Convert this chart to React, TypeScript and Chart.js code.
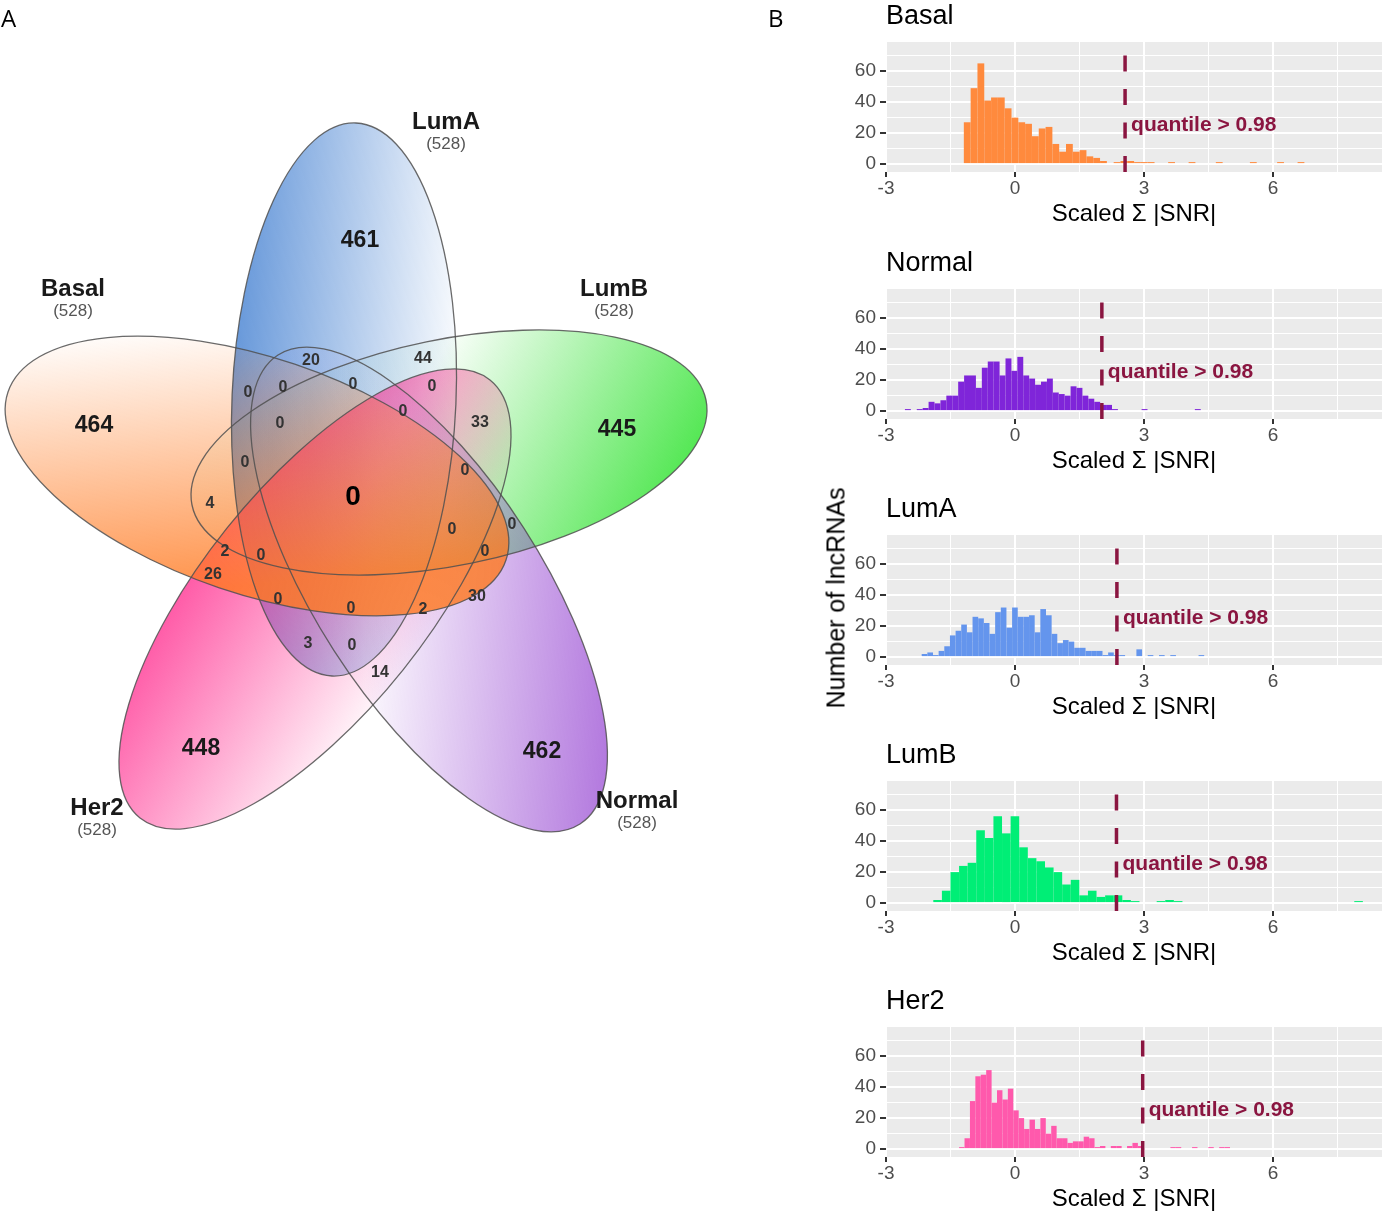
import React, { useEffect, useRef } from 'react';
import { Chart, registerables } from 'chart.js';

Chart.register(...registerables);

const FONT = "'Liberation Sans', Arial, Helvetica, sans-serif";

// ---------------- Panel B : histogram data ----------------
const histNames = ['Basal', 'Normal', 'LumA', 'LumB', 'Her2'];
const basalCounts = [27, 49, 65, 41, 43, 43, 36, 30, 27, 26, 18, 23, 24, 13, 8, 13, 8, 9, 5, 4, 2, 0, 1, 2, 2, 1, 1, 1, 0, 0, 1, 0, 0, 1, 0, 0, 0, 1, 0, 0, 0, 0, 1, 0, 0, 0, 1, 0, 0, 1];
const normalCounts = [1, 0, 1, 2, 6, 5, 7, 10, 10, 19, 23, 23, 15, 28, 32, 32, 23, 34, 26, 35, 23, 21, 17, 19, 21, 12, 11, 10, 16, 15, 10, 8, 6, 4, 4, 1, 0, 0, 0, 0, 1, 0, 0, 0, 0, 0, 0, 0, 0, 1];
const lumACounts = [2, 3, 1, 4, 7, 14, 17, 21, 16, 26, 25, 22, 15, 29, 32, 19, 32, 26, 26, 27, 16, 31, 27, 15, 9, 11, 10, 6, 6, 4, 4, 4, 1, 3, 1, 1, 0, 0, 5, 0, 1, 0, 1, 0, 1, 0, 0, 0, 0, 1];
const lumBCounts = [2, 8, 20, 24, 26, 47, 42, 56, 45, 56, 36, 29, 27, 23, 20, 12, 15, 5, 8, 4, 5, 5, 2, 1, 0, 0, 1, 2, 1, 0, 0, 0, 0, 0, 0, 0, 0, 0, 0, 0, 0, 0, 0, 0, 0, 0, 0, 0, 0, 1];
const her2Counts = [1, 7, 31, 47, 48, 51, 30, 38, 32, 39, 25, 20, 13, 19, 13, 20, 10, 15, 7, 7, 4, 5, 5, 8, 7, 1, 2, 0, 2, 2, 0, 2, 4, 2, 0, 0, 0, 0, 0, 1, 1, 0, 0, 1, 0, 0, 1, 0, 1, 1];
const histCounts = [basalCounts, normalCounts, lumACounts, lumBCounts, her2Counts];
const binStarts = [-1.19, -2.56, -2.17, -1.9, -1.3];
const binWidths = [0.1584, 0.1376, 0.1314, 0.1998, 0.126];
const quantileCuts = [2.56, 2.02, 2.37, 2.36, 2.97];
const histColors = ['#FF8A3D', '#7F25D9', '#6495ED', '#00EE76', '#FF59AC'];
const quantileLabel = 'quantile > 0.98';
const xAxisTitle = 'Scaled Σ |SNR|';
const yAxisTitle = 'Number of lncRNAs';

// layout of panel B
const histTops = [0, 247, 493, 739, 985];
const PANEL_BOTTOM = 172;
const QCOLOR = '#8A1540';

// ---------------- Panel A : Venn data ----------------
const vennSetNames = ['Basal', 'LumA', 'LumB', 'Normal', 'Her2'];
const vennSetSizes = [528, 528, 528, 528, 528];
const vennUniqueCounts = [464, 461, 445, 462, 448];
const vennCenterCount = 0;
const vennSharedCounts = [20, 44, 0, 0, 0, 0, 0, 33, 0, 0, 0, 4, 0, 0, 2, 0, 0, 26, 30, 0, 0, 2, 3, 0, 14];

// Venn layout (diagram units)
const vennSetLabelPos = [[73, 289], [446, 122], [614, 289], [637, 801], [97, 808]];
const vennUniquePos = [[94, 426], [360, 241], [617, 430], [542, 752], [201, 749]];
const vennCenterPos = [353, 497];
const vennSharedPos = [
  [311, 361], [423, 359], [248, 393], [283, 388], [353, 385], [432, 387], [403, 412], [480, 423],
  [280, 424], [245, 463], [465, 471], [210, 504], [452, 530], [512, 525], [225, 552], [261, 556],
  [485, 552], [213, 575], [477, 597], [278, 600], [351, 609], [423, 610], [308, 644], [352, 646], [380, 673],
];
const vennEllipseTip = [[8, 392], [356, 123], [706, 400], [580, 824], [140, 818]];
const vennEllipseEnd = [[506, 560], [332, 676], [192, 505], [278, 355], [490, 380]];
const vennEllipseHalfWidth = [118, 112, 113, 113, 113];
const vennColors = [[255, 120, 30], [70, 130, 210], [40, 225, 40], [150, 70, 210], [255, 40, 140]];
const vennAlpha = [0.8, 0.82, 0.82, 0.82, 0.75];
// gradient start/end in ellipse-local units (x along axis toward tip, y perpendicular)
const vennGradient = [[0, -1, 0.4, 1], [0, -1, 0, 1], [0.9, 0.6, 0.1, -1], [0.8, -1, 0.2, 1], [0.1, 1, 0, -1]];
const vennDrawOrder = [1, 2, 3, 4, 0];

const VENN_W = 770;
const VENN_H = 870;

function isMultiple(v: number, m: number) {
  return Math.abs(v / m - Math.round(v / m)) < 1e-6;
}

function HistogramPanel({ idx }: { idx: number }) {
  const ref = useRef<HTMLCanvasElement>(null);
  const top = histTops[idx];
  const h = Math.min(246, 1214 - top);
  useEffect(() => {
    const counts = histCounts[idx];
    const data = counts.map((c, i) => ({ x: binStarts[idx] + (i + 0.5) * binWidths[idx], y: c === 0 ? null : c }));
    const q = quantileCuts[idx];
    const bgPlugin = {
      id: 'panelBg',
      beforeDraw(chart: any) {
        const { ctx, chartArea: a } = chart;
        ctx.save();
        ctx.fillStyle = '#EBEBEB';
        ctx.fillRect(a.left, a.top, a.right - a.left, a.bottom - a.top);
        ctx.restore();
      },
    };
    const qPlugin = {
      id: 'quantileLine',
      afterDatasetsDraw(chart: any) {
        const { ctx, chartArea: a, scales } = chart;
        const x = scales.x.getPixelForValue(q);
        ctx.save();
        ctx.strokeStyle = QCOLOR;
        ctx.lineWidth = 3.5;
        ctx.setLineDash([16, 17.5]);
        ctx.beginPath();
        ctx.moveTo(x, a.bottom);
        ctx.lineTo(x, a.top);
        ctx.stroke();
        ctx.setLineDash([]);
        ctx.fillStyle = QCOLOR;
        ctx.font = `bold 21px ${FONT}`;
        ctx.textAlign = 'left';
        ctx.textBaseline = 'middle';
        ctx.fillText(quantileLabel, x + 6, scales.y.getPixelForValue(25));
        ctx.restore();
      },
    };
    const chart = new Chart(ref.current!, {
      type: 'bar',
      data: {
        datasets: [
          {
            data: data as any,
            backgroundColor: histColors[idx],
            borderWidth: 0,
            inflateAmount: 0,
            minBarLength: 2,
            barPercentage: 1,
            categoryPercentage: 1,
          } as any,
        ],
      },
      options: {
        responsive: false,
        animation: false,
        events: [],
        layout: { padding: { left: 0, right: 7, top: 0, bottom: 0 } },
        plugins: {
          legend: { display: false },
          tooltip: { enabled: false },
          title: {
            display: true,
            text: histNames[idx],
            align: 'start',
            fullSize: false,
            color: '#000',
            font: { family: FONT, size: 27, weight: 'normal', lineHeight: 1.2 },
            padding: { top: 0, bottom: 42 - 32.4 },
          } as any,
        },
        scales: {
          x: {
            type: 'linear',
            min: -3,
            max: 8.535,
            offset: false,
            border: { display: false },
            grid: {
              offset: false,
              color: '#FFFFFF',
              lineWidth: (c: any) => (isMultiple(c.tick.value, 3) ? 2 : 1),
              tickColor: (c: any) => (isMultiple(c.tick.value, 3) ? '#333333' : 'rgba(0,0,0,0)'),
              tickWidth: 2,
              tickLength: 5,
            },
            ticks: {
              stepSize: 1.5,
              includeBounds: false,
              autoSkip: false,
              maxRotation: 0,
              padding: 0,
              color: '#4D4D4D',
              font: { family: FONT, size: 19 },
              callback: (v: any) => (isMultiple(Number(v), 3) ? String(v) : ''),
            },
            title: {
              display: true,
              text: xAxisTitle,
              color: '#000',
              font: { family: FONT, size: 24, lineHeight: 1.2 },
              padding: { top: 0, bottom: h - 214 - 14.4 },
            },
            afterFit: (s: any) => {
              s.height = h - PANEL_BOTTOM;
            },
          } as any,
          y: {
            type: 'linear',
            min: -5.1,
            max: 78.8,
            border: { display: false },
            grid: {
              color: '#FFFFFF',
              lineWidth: (c: any) => (isMultiple(c.tick.value, 20) ? 2 : 1),
              tickColor: (c: any) => (isMultiple(c.tick.value, 20) ? '#333333' : 'rgba(0,0,0,0)'),
              tickWidth: 2,
              tickLength: 6,
            },
            ticks: {
              stepSize: 10,
              includeBounds: false,
              autoSkip: false,
              padding: 4,
              color: '#4D4D4D',
              font: { family: FONT, size: 19 },
              callback: (v: any) => (isMultiple(Number(v), 20) ? String(v) : ''),
            },
            afterFit: (s: any) => {
              s.width = 46;
            },
          } as any,
        },
      },
      plugins: [bgPlugin, qPlugin],
    });
    return () => chart.destroy();
  }, [idx]);
  return (
    <canvas
      ref={ref}
      width={549}
      height={h}
      style={{ position: 'absolute', left: 840, top, width: 549, height: h }}
    />
  );
}

function VennPanel() {
  const ref = useRef<HTMLCanvasElement>(null);
  useEffect(() => {
    const vennPlugin = {
      id: 'vennDraw',
      afterDraw(chart: any) {
        const { ctx } = chart;
        const xs = chart.scales.x;
        const ys = chart.scales.y;
        const px = (v: number) => xs.getPixelForValue(v);
        const py = (v: number) => ys.getPixelForValue(v);
        const shapes = vennSetNames.map((_, i) => {
          const tx = px(vennEllipseTip[i][0]);
          const ty = py(vennEllipseTip[i][1]);
          const ex = px(vennEllipseEnd[i][0]);
          const ey = py(vennEllipseEnd[i][1]);
          const cx = (tx + ex) / 2;
          const cy = (ty + ey) / 2;
          return {
            cx,
            cy,
            a: Math.hypot(tx - ex, ty - ey) / 2,
            b: Math.abs(px(vennEllipseHalfWidth[i]) - px(0)),
            ang: Math.atan2(ty - cy, tx - cx),
          };
        });
        vennDrawOrder.forEach((i) => {
          const s = shapes[i];
          const [r, g, bl] = vennColors[i];
          const [gx0, gy0, gx1, gy1] = vennGradient[i];
          ctx.save();
          ctx.translate(s.cx, s.cy);
          ctx.rotate(s.ang);
          const grad = ctx.createLinearGradient(gx0 * s.a, gy0 * s.b, gx1 * s.a, gy1 * s.b);
          grad.addColorStop(0, `rgba(${r},${g},${bl},${vennAlpha[i]})`);
          grad.addColorStop(1, `rgba(${r},${g},${bl},0.03)`);
          ctx.beginPath();
          ctx.ellipse(0, 0, s.a, s.b, 0, 0, Math.PI * 2);
          ctx.fillStyle = grad;
          ctx.fill();
          ctx.restore();
        });
        shapes.forEach((s) => {
          ctx.save();
          ctx.translate(s.cx, s.cy);
          ctx.rotate(s.ang);
          ctx.beginPath();
          ctx.ellipse(0, 0, s.a, s.b, 0, 0, Math.PI * 2);
          ctx.strokeStyle = 'rgba(80,80,80,0.85)';
          ctx.lineWidth = 1.3;
          ctx.stroke();
          ctx.restore();
        });
        ctx.save();
        ctx.textAlign = 'center';
        ctx.textBaseline = 'middle';
        vennSetNames.forEach((name, i) => {
          const [lx, ly] = vennSetLabelPos[i];
          ctx.fillStyle = '#1a1a1a';
          ctx.font = `bold 24px ${FONT}`;
          ctx.fillText(name, px(lx), py(ly));
          ctx.fillStyle = '#555555';
          ctx.font = `17px ${FONT}`;
          ctx.fillText(`(${vennSetSizes[i]})`, px(lx), py(ly + 22));
        });
        vennUniqueCounts.forEach((c, i) => {
          ctx.fillStyle = '#1a1a1a';
          ctx.font = `bold 23px ${FONT}`;
          ctx.fillText(String(c), px(vennUniquePos[i][0]), py(vennUniquePos[i][1]));
        });
        vennSharedCounts.forEach((c, i) => {
          ctx.fillStyle = '#333333';
          ctx.font = `bold 16px ${FONT}`;
          ctx.fillText(String(c), px(vennSharedPos[i][0]), py(vennSharedPos[i][1]));
        });
        ctx.fillStyle = '#000';
        ctx.font = `bold 28px ${FONT}`;
        ctx.fillText(String(vennCenterCount), px(vennCenterPos[0]), py(vennCenterPos[1]));
        ctx.restore();
      },
    };
    const chart = new Chart(ref.current!, {
      type: 'scatter',
      data: { datasets: [{ data: [], pointRadius: 0 }] },
      options: {
        responsive: false,
        animation: false,
        events: [],
        layout: { padding: 0 },
        plugins: { legend: { display: false }, tooltip: { enabled: false }, title: { display: false } },
        scales: {
          x: { type: 'linear', min: 0, max: VENN_W, display: false },
          y: { type: 'linear', min: 0, max: VENN_H, reverse: true, display: false },
        },
      },
      plugins: [vennPlugin],
    });
    return () => chart.destroy();
  }, []);
  return (
    <canvas
      ref={ref}
      width={VENN_W}
      height={VENN_H}
      style={{ position: 'absolute', left: 0, top: 0, width: VENN_W, height: VENN_H }}
    />
  );
}

export default function App() {
  return (
    <div
      style={{
        position: 'absolute',
        left: 0,
        top: 0,
        width: 1389,
        height: 1214,
        overflow: 'hidden',
        background: '#ffffff',
        fontFamily: FONT,
      }}
    >
      <VennPanel />
      {histNames.map((_, i) => (
        <HistogramPanel key={i} idx={i} />
      ))}
      <div style={{ position: 'absolute', left: 1, top: 4, fontSize: 24, fontFamily: "'Open Sans', sans-serif", lineHeight: '28px' }}>A</div>
      <div style={{ position: 'absolute', left: 768, top: 4, fontSize: 24, fontFamily: "'Open Sans', sans-serif", lineHeight: '28px' }}>B</div>
      <div
        style={{
          position: 'absolute',
          left: 836,
          top: 598,
          transform: 'translate(-50%, -50%) rotate(-90deg)',
          whiteSpace: 'nowrap',
          fontSize: 25,
          lineHeight: '25px',
          color: '#000',
        }}
      >
        {yAxisTitle}
      </div>
    </div>
  );
}
